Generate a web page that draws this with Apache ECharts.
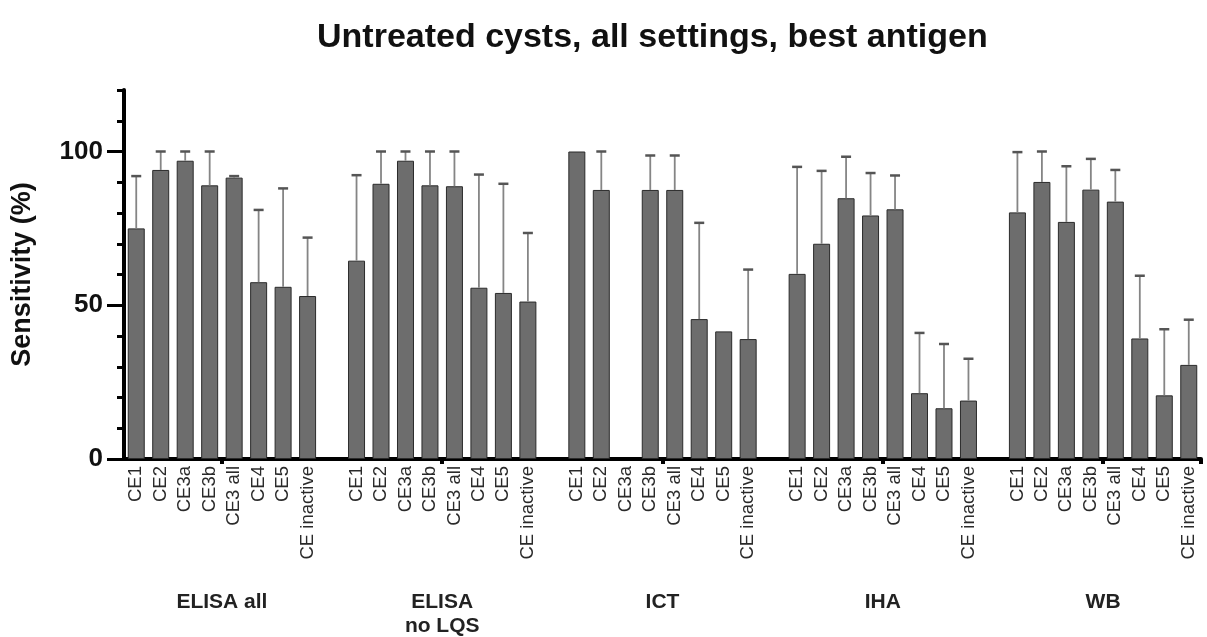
<!DOCTYPE html>
<html>
<head>
    <meta charset="utf-8">
    <title>Untreated cysts, all settings, best antigen</title>
    <script src="https://cdn.jsdelivr.net/npm/echarts@6/dist/echarts.min.js"></script>
    <style>
        html, body { margin: 0; padding: 0; background: #fff; }
        #main { width: 1207px; height: 637px; }
    </style>
</head>
<body>
    <div id="main"></div>
    <script>
        // stages shown inside every test group
        var stages = ['CE1', 'CE2', 'CE3a', 'CE3b', 'CE3 all', 'CE4', 'CE5', 'CE inactive'];
        var groups = ['ELISA all', 'ELISA\nno LQS', 'ICT', 'IHA', 'WB'];

        // sensitivity (%) per stage, null = not tested
        var elisaAll     = [75, 94, 97, 89, 91.5, 57.5, 56, 53];
        var elisaAllHi   = [92, 100, 100, 100, 92, 81, 88, 72];
        var elisaNoLqs   = [64.5, 89.5, 97, 89, 88.7, 55.7, 54, 51.2];
        var elisaNoLqsHi = [92.3, 100, 100, 100, 100, 92.5, 89.5, 73.5];
        var ict          = [100, 87.5, null, 87.5, 87.5, 45.5, 41.5, 39];
        var ictHi        = [null, 100, null, 98.7, 98.7, 76.8, null, 61.6];
        var iha          = [60.2, 70, 84.8, 79.2, 81.2, 21.4, 16.5, 19];
        var ihaHi        = [95, 93.7, 98.3, 93, 92.2, 41, 37.4, 32.6];
        var wb           = [80.2, 90.1, 77.1, 87.6, 83.7, 39.2, 20.7, 30.6];
        var wbHi         = [99.8, 100, 95.2, 97.6, 94, 59.6, 42.2, 45.3];

        var yLabels = [0, 50, 100];

        var values = [elisaAll, elisaNoLqs, ict, iha, wb];
        var uppers = [elisaAllHi, elisaNoLqsHi, ictHi, ihaHi, wbHi];

        // flatten into one category axis, an empty slot between groups
        var cats = [], barData = [], errData = [], groupSpan = [];
        values.forEach(function (vals, g) {
            if (g > 0) { cats.push(''); barData.push('-'); }
            var start = cats.length;
            vals.forEach(function (v, i) {
                var idx = cats.length;
                cats.push(stages[i]);
                barData.push(v == null ? '-' : v);
                if (v != null && uppers[g][i] != null) errData.push([idx, v, uppers[g][i]]);
            });
            groupSpan.push([start, cats.length - 1]);
        });

        var chart = echarts.init(document.getElementById('main'));
        var font = 'Liberation Sans, Arial, sans-serif';

        var option = {
            animation: false,
            title: {
                text: 'Untreated cysts, all settings, best antigen',
                left: 312, top: 16,
                textStyle: { fontFamily: font, fontSize: 34, fontWeight: 'bold', color: '#111' }
            },
            grid: { left: 124, right: 6, top: 90, bottom: 178 },
            xAxis: {
                type: 'category',
                data: cats,
                axisLine: { lineStyle: { color: '#000', width: 4 } },
                axisTick: {
                    show: true, length: 5,
                    interval: function (i) { return i % 9 === 4 && i < cats.length; },
                    lineStyle: { color: '#000', width: 4 }
                },
                axisLabel: {
                    interval: 0, rotate: 90, margin: 7,
                    fontFamily: font, fontSize: 18.5, color: '#2a2a2a'
                }
            },
            yAxis: [{
                type: 'value', min: 0, max: 120, interval: 10,
                name: 'Sensitivity (%)', nameLocation: 'middle', nameGap: 88,
                nameTextStyle: { fontFamily: font, fontSize: 27, fontWeight: 'bold', color: '#111' },
                axisLine: { show: true, lineStyle: { color: '#000', width: 4 } },
                axisTick: { show: true, length: 7, lineStyle: { color: '#000', width: 3 } },
                axisLabel: {
                    margin: 21, fontFamily: font, fontSize: 26, fontWeight: 'bold', color: '#111',
                    formatter: function (v) { return yLabels.indexOf(v) >= 0 ? v : ''; }
                },
                splitLine: { show: false }
            }, {
                type: 'value', min: 0, max: 120, position: 'left',
                axisLine: { show: false },
                axisTick: { show: true, length: 17, customValues: yLabels, lineStyle: { color: '#000', width: 3 } },
                axisLabel: { show: false },
                splitLine: { show: false }
            }],
            series: [{
                type: 'bar',
                data: barData,
                barWidth: 17,
                itemStyle: { color: '#6d6d6d', borderColor: '#2b2b2b', borderWidth: 1 }
            }, {
                type: 'custom',
                data: errData,
                z: 3,
                renderItem: function (params, api) {
                    var top = api.coord([api.value(0), api.value(1)]);
                    var hi = api.coord([api.value(0), api.value(2)]);
                    return {
                        type: 'group',
                        children: [
                            { type: 'line', shape: { x1: top[0], y1: top[1], x2: hi[0], y2: hi[1] }, style: { stroke: '#858585', lineWidth: 1.8 } },
                            { type: 'line', shape: { x1: hi[0] - 5, y1: hi[1], x2: hi[0] + 5, y2: hi[1] }, style: { stroke: '#555', lineWidth: 2.5 } }
                        ]
                    };
                }
            }]
        };

        chart.setOption(option);

        // group names centred under each block of bars
        var labels = groups.map(function (name, g) {
            var a = chart.convertToPixel({ xAxisIndex: 0 }, groupSpan[g][0]);
            var b = chart.convertToPixel({ xAxisIndex: 0 }, groupSpan[g][1]);
            return {
                type: 'text',
                x: (a + b) / 2, y: 590,
                style: {
                    text: name, align: 'center', verticalAlign: 'top', lineHeight: 24,
                    font: 'bold 21px ' + font, fill: '#222'
                }
            };
        });
        chart.setOption({ graphic: labels });
    </script>
</body>
</html>
